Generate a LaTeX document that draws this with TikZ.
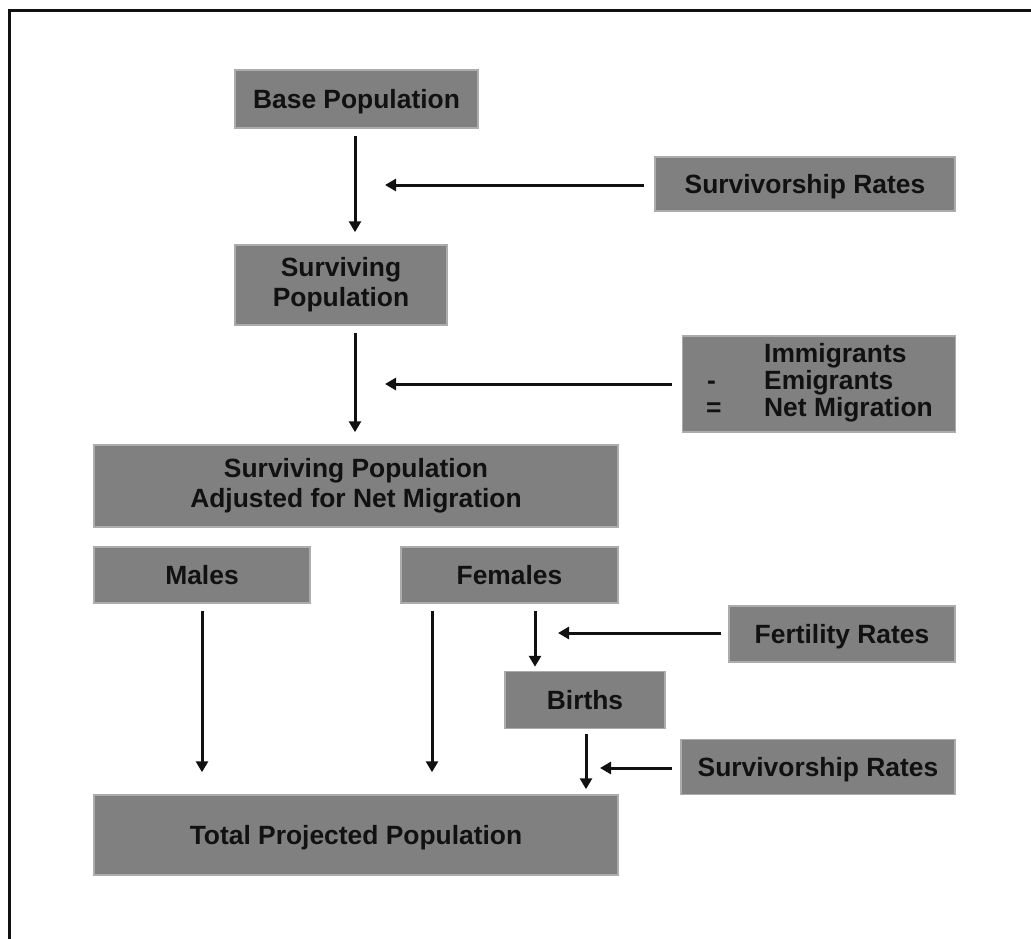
\documentclass[tikz,border=0pt]{standalone}
\usepackage{fontspec}
\setmainfont{Liberation Sans}
\usetikzlibrary{arrows.meta}
\definecolor{boxgray}{RGB}{128,128,128}
\definecolor{boxedge}{RGB}{172,172,172}
\definecolor{ink}{RGB}{17,17,17}
\begin{document}
\begin{tikzpicture}[x=1pt,y=-1pt,
  pbox/.style={fill=boxgray,draw=boxedge,line width=1.5pt,inner sep=0pt,
    text=ink,align=center,font=\fontsize{26.4}{30}\selectfont\bfseries},
  onebox/.style={pbox,text depth=0pt},
  arr/.style={line width=3pt,draw=ink,-{Triangle[length=11pt,width=12pt]}},
  frame/.style={line width=3pt,draw=ink}]
\useasboundingbox (0,0) rectangle (1031,939);
\draw[frame] (9,939) -- (9,11) -- (1031,11);

\node[onebox,minimum width=243pt,minimum height=58pt] (base) at (356.5,99) {Base Population};
\node[onebox,minimum width=300pt,minimum height=54pt] (surv1) at (805,184) {Survivorship Rates};
\node[pbox,minimum width=212pt,minimum height=80pt] (surviving) at (341,285) {Surviving\\Population};
\node[pbox,minimum width=273pt,minimum height=96pt,font=\fontsize{26.4}{27}\selectfont\bfseries] (mig) at (819,384)
  {\raisebox{-2pt}{\begin{tabular}{@{}p{59pt}@{}l@{}}
   & Immigrants\\
   \hspace*{2pt}- & Emigrants\\
   \hspace*{1pt}= & Net Migration
   \end{tabular}}};
\node[pbox,minimum width=524pt,minimum height=82pt] (adjusted) at (356,486) {Surviving Population\\Adjusted for Net Migration};
\node[onebox,minimum width=216pt,minimum height=56pt] (males) at (202,575) {Males};
\node[onebox,minimum width=217pt,minimum height=56pt] (females) at (509.5,575) {Females};
\node[onebox,minimum width=226pt,minimum height=56pt] (fert) at (842,634) {Fertility Rates};
\node[onebox,minimum width=160pt,minimum height=57pt] (births) at (585,700) {Births};
\node[onebox,minimum width=274pt,minimum height=55pt] (surv2) at (818,767) {Survivorship Rates};
\node[onebox,minimum width=524pt,minimum height=80pt] (total) at (356,835) {Total Projected Population};

% free ends of the side arrows
\coordinate (t1) at (385,185);
\coordinate (t2) at (385,384);
\coordinate (t3) at (558,633);
\coordinate (t4) at (600,768);

% vertical arrows
\draw[arr] ([xshift=-1.5pt,yshift=-7pt]base.south) -- ([xshift=-1.5pt,yshift=12pt]base.south |- surviving.north);
\draw[arr] ([xshift=-1.5pt,yshift=-7pt]base.south |- surviving.south) -- ([xshift=-1.5pt,yshift=12pt]base.south |- adjusted.north);
\draw[arr] ([yshift=-7pt]males.south) -- ([yshift=22pt]males.south |- total.north);
\draw[arr] ([xshift=-77.5pt,yshift=-7pt]females.south) -- ([xshift=-77.5pt,yshift=22pt]females.south |- total.north);
\draw[arr] ([xshift=25.5pt,yshift=-7pt]females.south) -- ([xshift=25.5pt,yshift=4pt]females.south |- births.north);
\draw[arr] ([xshift=1pt,yshift=-5pt]births.south) -- ([xshift=1pt,yshift=5pt]births.south |- total.north);

% horizontal arrows
\draw[arr] ([xshift=-10pt]surv1.west |- t1) -- (t1);
\draw[arr] ([xshift=-10pt]mig.west |- t2) -- (t2);
\draw[arr] ([xshift=-7pt]fert.west |- t3) -- (t3);
\draw[arr] ([xshift=-8pt]surv2.west |- t4) -- (t4);
\end{tikzpicture}
\end{document}
